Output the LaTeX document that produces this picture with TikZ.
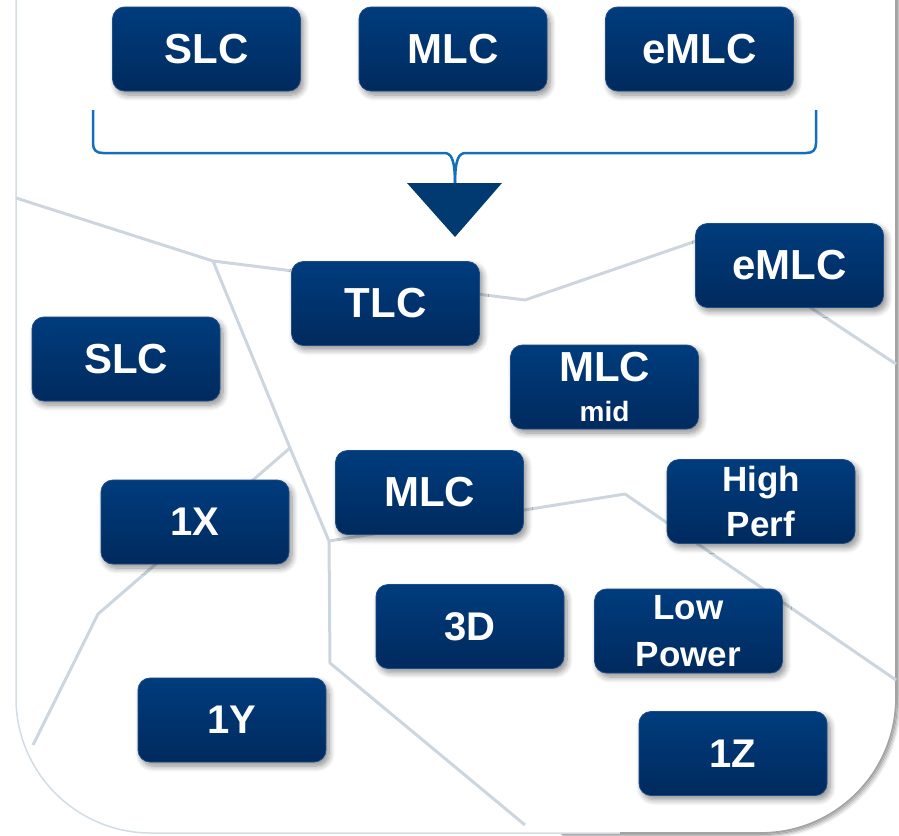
\documentclass[tikz,border=0pt]{standalone}
\usepackage{fontspec}
\setmainfont{Liberation Sans}
\usetikzlibrary{shadows.blur}

\definecolor{chiptop}{HTML}{003C7D}
\definecolor{chipbot}{HTML}{002A5E}
\definecolor{chipedge}{HTML}{1E4C84}
\definecolor{wirecol}{HTML}{CDD6DE}
\definecolor{bracecol}{HTML}{146EBE}
\definecolor{arrowcol}{HTML}{003A70}
\definecolor{panelleft}{HTML}{D3DBE3}
\definecolor{panelright}{HTML}{A3A3A3}

\tikzset{
  chip/.style={rectangle, rounded corners=12pt, minimum width=188pt, minimum height=84pt,
    top color=chiptop, bottom color=chipbot, draw=chipedge, line width=0.8pt,
    text=white, align=center, inner sep=0pt,
    blur shadow={shadow xshift=3pt, shadow yshift=-4pt, shadow blur radius=6pt,
      shadow blur steps=8, shadow opacity=45}},
  bigtxt/.style={font=\bfseries\fontsize{42}{46}\selectfont},
  numtxt/.style={font=\bfseries\fontsize{40}{44}\selectfont},
  twotxt/.style={font=\bfseries\fontsize{35}{45}\selectfont},
  wire/.style={draw=wirecol, line width=3pt, line join=round},
  bracket/.style={draw=bracecol, line width=2.5pt, line join=round},
}

\begin{document}
\begin{tikzpicture}[x=1pt,y=1pt]
\useasboundingbox (0,0) rectangle (899,-835);

% soft shadow along the right and bottom of the panel
\foreach \s/\o in {4/0.05,3/0.09,2/0.14,1/0.22}{
  \draw[line width=2pt, black, opacity=\o, shift={(\s,-\s)}]
    (896,5) -- (896,-698) arc[start angle=0, end angle=-90, radius=135] -- (560,-833);
}
% panel outline
\draw[panelleft, line width=1.5pt]
  (16,5) -- (16,-698) arc[start angle=180, end angle=270, radius=135] -- (761,-833)
  arc[start angle=270, end angle=360, radius=135] -- (896,5);
\draw[panelright, line width=1.8pt]
  (620,-833) -- (761,-833) arc[start angle=270, end angle=360, radius=135] -- (896,5);

% junction points of the background web
\coordinate (w0) at (16,-198);
\coordinate (j1) at (213,-261);
\coordinate (j2) at (525,-300);
\coordinate (j3) at (705,-238);
\coordinate (w1) at (896,-364);
\coordinate (j4) at (290,-448);
\coordinate (j5) at (329,-541);
\coordinate (j6) at (330,-663);
\coordinate (w2) at (525,-825);
\coordinate (j7) at (98,-614);
\coordinate (w3) at (33,-745);
\coordinate (j8) at (625,-494);
\coordinate (w4) at (896,-680);

\draw[wire] (w0) -- (j1) -- (j2) -- (j3) -- (w1);
\draw[wire] (j1) -- (j4) -- (j5) -- (j6) -- (w2);
\draw[wire] (j4) -- (j7) -- (w3);
\draw[wire] (j5) -- (j8) -- (w4);

% bracket gathering the top row
\coordinate (bl) at (93,-110);
\coordinate (br) at (816,-110);
\coordinate (bt) at (455,-185);
\draw[bracket] (bl) -- (93,-143) .. controls (93,-150) and (96,-153) .. (103,-153) -- (444,-153)
  .. controls (451,-153) and (455,-158) .. (bt);
\draw[bracket] (br) -- (816,-143) .. controls (816,-150) and (813,-153) .. (806,-153) -- (466,-153)
  .. controls (459,-153) and (455,-158) .. (bt);

% down arrow head
\coordinate (ta) at (407,-183);
\coordinate (tb) at (502,-183);
\coordinate (tc) at (455,-237);
\fill[arrowcol] (ta) -- (tb) -- (tc) -- cycle;

% top row
\node[chip, bigtxt] (slcA)  at (206.5,-49) {SLC};
\node[chip, bigtxt] (mlcA)  at (453,-49)   {MLC};
\node[chip, bigtxt] (emlcA) at (699.5,-49) {eMLC};

% lower field
\node[chip, bigtxt] (tlc)   at (385.5,-303.5) {TLC};
\node[chip, bigtxt] (emlcB) at (789.5,-265.5) {eMLC};
\node[chip, bigtxt] (slcB)  at (126,-359)     {SLC};
\node[chip, font=\bfseries\fontsize{42}{40}\selectfont] (mlcmid) at (604.5,-387)
  {MLC\\{\fontsize{28}{40}\selectfont mid}};
\node[chip, bigtxt] (mlcB)  at (429.5,-492.5) {MLC};
\node[chip, twotxt] (hiperf) at (761,-501.5)  {High\\Perf};
\node[chip, numtxt] (onex)  at (195,-522)     {1X};
\node[chip, numtxt] (threed) at (470,-626.5)  {3D};
\node[chip, font=\bfseries\fontsize{35}{47}\selectfont] (lowpow) at (688.5,-631) {Low\\Power};
\node[chip, numtxt] (oney)  at (232,-720)     {1Y};
\node[chip, numtxt] (onez)  at (733,-753.5)   {1Z};
\end{tikzpicture}
\end{document}
